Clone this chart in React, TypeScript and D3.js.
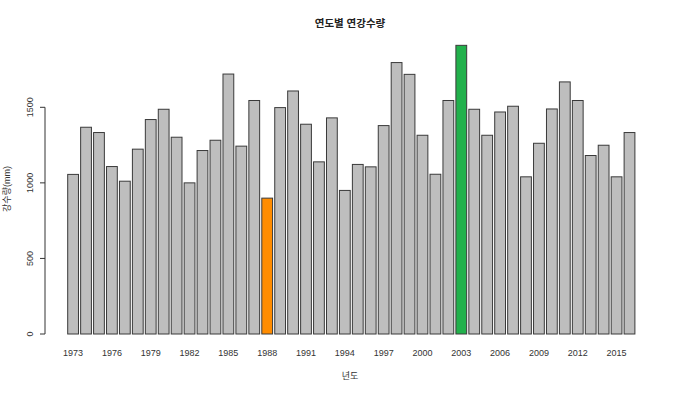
import React, { useEffect, useRef } from 'react';
import * as d3 from 'd3';

const years: number[] = [
  1973, 1974, 1975, 1976, 1977, 1978, 1979, 1980, 1981, 1982, 1983,
  1984, 1985, 1986, 1987, 1988, 1989, 1990, 1991, 1992, 1993, 1994,
  1995, 1996, 1997, 1998, 1999, 2000, 2001, 2002, 2003, 2004, 2005,
  2006, 2007, 2008, 2009, 2010, 2011, 2012, 2013, 2014, 2015, 2016,
];

const rainfall: number[] = [
  1056, 1368, 1333, 1108, 1011, 1223, 1419, 1487, 1302, 1000, 1214,
  1282, 1720, 1243, 1545, 899, 1498, 1608, 1388, 1139, 1430, 950,
  1122, 1106, 1379, 1796, 1718, 1315, 1057, 1545, 1910, 1487, 1315,
  1469, 1507, 1040, 1262, 1489, 1668, 1545, 1181, 1249, 1040, 1333,
];

const yTicks: number[] = [0, 500, 1000, 1500];
const minYear = 1988;
const maxYear = 2003;

const title = '연도별 연강수량';
const xTitle = '년도';
const yTitle = '강수량(mm)';

const App: React.FC = () => {
  const svgRef = useRef<SVGSVGElement | null>(null);

  useEffect(() => {
    if (!svgRef.current) return;
    const width = 680;
    const height = 393;
    const font = '"Liberation Sans", Arial, "Noto Sans CJK KR", sans-serif';

    const svg = d3.select(svgRef.current)
      .attr('width', width)
      .attr('height', height);
    svg.selectAll('*').remove();

    const x = d3.scaleBand<number>()
      .domain(years)
      .range([67.7, 634.9])
      .paddingInner(0.1667)
      .paddingOuter(0);

    const y = d3.scaleLinear()
      .domain([0, 1500])
      .range([334, 107.3]);

    const data = years.map((yr, i) => ({ year: yr, value: rainfall[i] }));

    // Bars
    svg.selectAll('rect.bar')
      .data(data)
      .enter()
      .append('rect')
      .attr('class', 'bar')
      .attr('x', d => (x(d.year) || 0))
      .attr('y', d => y(d.value))
      .attr('width', x.bandwidth())
      .attr('height', d => y(0) - y(d.value))
      .attr('fill', d => d.year === minYear ? '#ff8c00' : d.year === maxYear ? '#22b14c' : '#bebebe')
      .attr('stroke', '#3a3a3a')
      .attr('stroke-width', 1);

    // Y axis
    const axisX = 45;
    svg.append('line')
      .attr('x1', axisX)
      .attr('x2', axisX)
      .attr('y1', y(0))
      .attr('y2', y(1500))
      .attr('stroke', '#333')
      .attr('stroke-width', 1);

    svg.selectAll('line.ytick')
      .data(yTicks)
      .enter()
      .append('line')
      .attr('class', 'ytick')
      .attr('x1', axisX - 5)
      .attr('x2', axisX)
      .attr('y1', d => y(d))
      .attr('y2', d => y(d))
      .attr('stroke', '#333')
      .attr('stroke-width', 1);

    svg.selectAll('text.ytick-label')
      .data(yTicks)
      .enter()
      .append('text')
      .attr('class', 'ytick-label')
      .attr('transform', d => `translate(33, ${y(d)}) rotate(-90)`)
      .attr('text-anchor', 'middle')
      .attr('fill', '#333')
      .attr('font-size', 9)
      .attr('font-family', font)
      .text(d => String(d));

    // X tick labels (every third year)
    const labelYears = years.filter((_, i) => i % 3 === 0);
    svg.selectAll('text.xtick-label')
      .data(labelYears)
      .enter()
      .append('text')
      .attr('class', 'xtick-label')
      .attr('x', d => (x(d) || 0) + x.bandwidth() / 2)
      .attr('y', 356)
      .attr('text-anchor', 'middle')
      .attr('fill', '#333')
      .attr('font-size', 9)
      .attr('font-family', font)
      .text(d => String(d));

    // Titles
    svg.append('text')
      .attr('x', 350)
      .attr('y', 27)
      .attr('text-anchor', 'middle')
      .attr('fill', '#222')
      .attr('font-size', 10.5)
      .attr('font-weight', 'bold')
      .attr('font-family', font)
      .text(title);

    svg.append('text')
      .attr('x', 350)
      .attr('y', 379)
      .attr('text-anchor', 'middle')
      .attr('fill', '#333')
      .attr('font-size', 9)
      .attr('font-family', font)
      .text(xTitle);

    svg.append('text')
      .attr('transform', 'translate(10, 189) rotate(-90)')
      .attr('text-anchor', 'middle')
      .attr('fill', '#333')
      .attr('font-size', 9)
      .attr('font-family', font)
      .text(yTitle);
  }, []);

  return (
    <div style={{ position: 'fixed', left: 0, top: 0, width: 680, height: 393, background: '#fff' }}>
      <svg ref={svgRef} style={{ display: 'block' }} />
    </div>
  );
};

export default App;
